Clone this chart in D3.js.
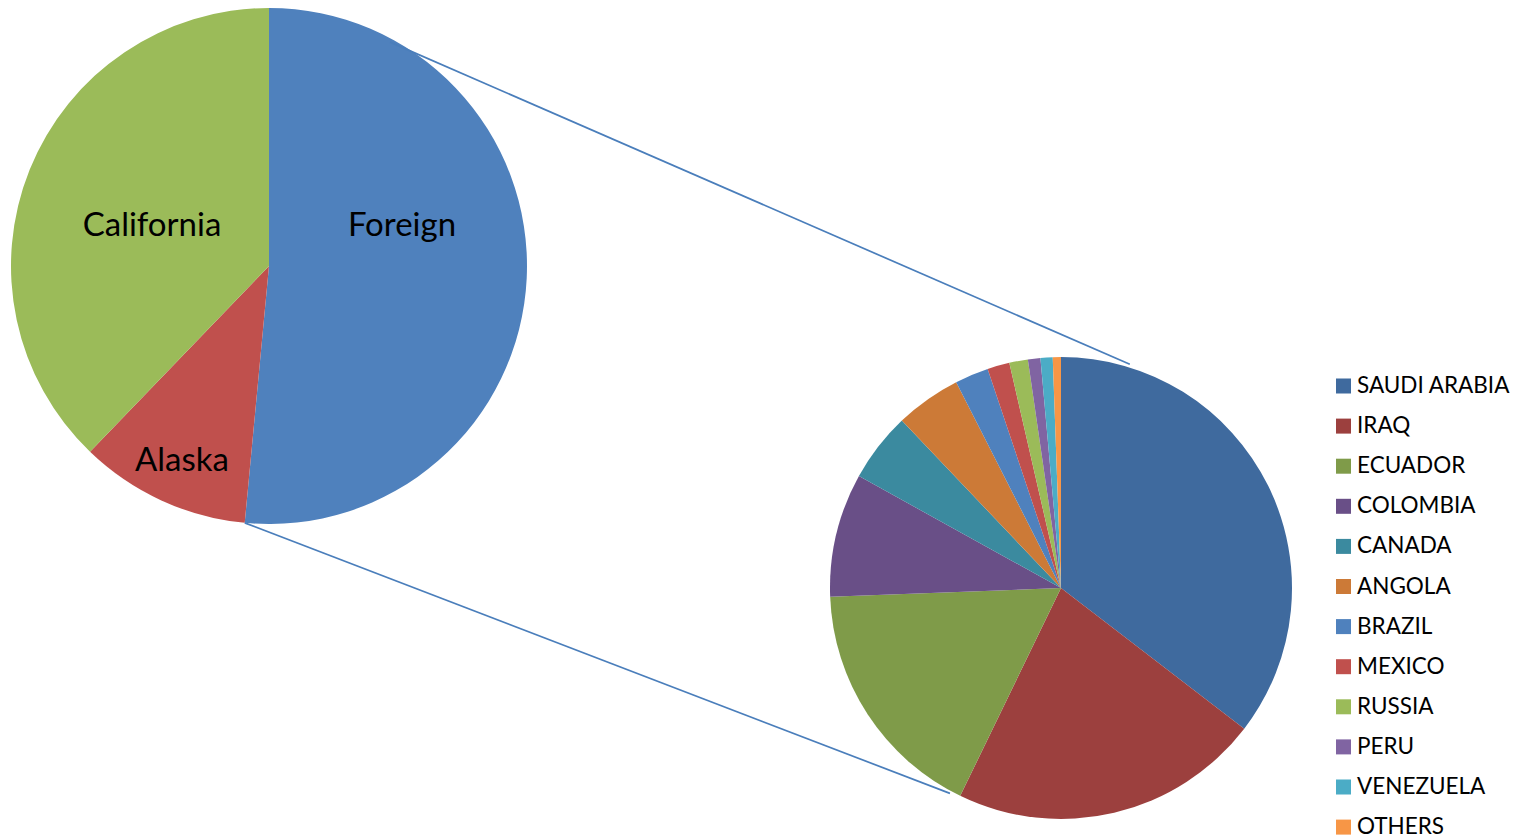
<!DOCTYPE html>
<html>
<head>
<meta charset="utf-8">
<script src="https://cdn.jsdelivr.net/npm/d3@7"></script>
<style>
  html, body { margin: 0; padding: 0; background: #fff; }
  svg { display: block; }
  text { font-family: Lato, "Open Sans", sans-serif; fill: #000; }
</style>
</head>
<body>
<svg id="chart" width="1527" height="839"></svg>
<script>
// Sources of crude oil (share, %)
const sourceNames = ["Foreign", "Alaska", "California"];
const sourceValues = [51.5, 10.7, 37.8];
const sourceColors = ["#4F81BD", "#C0504D", "#9BBB59"];

// Breakdown of foreign supply by country (share, %)
const countryNames = ["SAUDI ARABIA", "IRAQ", "ECUADOR", "COLOMBIA", "CANADA", "ANGOLA",
                      "BRAZIL", "MEXICO", "RUSSIA", "PERU", "VENEZUELA", "OTHERS"];
const countryValues = [35.4, 21.75, 17.2, 8.65, 4.85, 4.6, 2.35, 1.55, 1.3, 0.87, 0.85, 0.57];
const countryColors = ["#3F6A9E", "#9C403E", "#7F9B49", "#694F87", "#3B8A9F", "#CC7A37",
                       "#4F81BD", "#C0504D", "#9BBB59", "#8064A2", "#4BACC6", "#F79646"];

const svg = d3.select("#chart");

const main = { cx: 269, cy: 266, r: 258 };
const detail = { cx: 1061, cy: 588, r: 231 };

const pie = d3.pie().sort(null).value(d => d.value);

// Main pie
const mainArcs = pie(sourceNames.map((n, i) => ({ name: n, value: sourceValues[i], color: sourceColors[i] })));
const mainArc = d3.arc().innerRadius(0).outerRadius(main.r);
const gMain = svg.append("g").attr("transform", `translate(${main.cx},${main.cy})`);
gMain.selectAll("path").data(mainArcs).join("path")
  .attr("d", mainArc)
  .attr("fill", d => d.data.color);

// Detail pie
const detailArcs = pie(countryNames.map((n, i) => ({ name: n, value: countryValues[i], color: countryColors[i] })));
const detailArc = d3.arc().innerRadius(0).outerRadius(detail.r);
const gDetail = svg.append("g").attr("transform", `translate(${detail.cx},${detail.cy})`);
gDetail.selectAll("path").data(detailArcs).join("path")
  .attr("d", detailArc)
  .attr("fill", d => d.data.color);

// Connector lines from the Foreign slice to the detail pie
const polar = (c, ang, rad) => [c.cx + rad * Math.sin(ang), c.cy - rad * Math.cos(ang)];
const deg = Math.PI / 180;
const foreign = mainArcs[0];
const connectors = [
  [polar(main, 28.4 * deg, main.r - 3.5), polar(detail, 17.1 * deg, detail.r + 3)],
  [polar(main, foreign.endAngle, main.r), polar(detail, 208.4 * deg, detail.r + 2.5)]
];
svg.selectAll("line.connector").data(connectors).join("line")
  .attr("class", "connector")
  .attr("x1", d => d[0][0]).attr("y1", d => d[0][1])
  .attr("x2", d => d[1][0]).attr("y2", d => d[1][1])
  .attr("stroke", "#4A7EBB")
  .attr("stroke-width", 1.7);

// Slice labels on the main pie
const labelOffsets = { "Foreign": [133, -43], "California": [-117, -43], "Alaska": [-87, 192] };
gMain.selectAll("text").data(mainArcs).join("text")
  .attr("x", d => labelOffsets[d.data.name][0])
  .attr("y", d => labelOffsets[d.data.name][1])
  .attr("text-anchor", "middle")
  .attr("dominant-baseline", "central")
  .style("font-size", "33px")
  .text(d => d.data.name);

// Legend
const legend = svg.append("g").attr("transform", "translate(1336,386)");
const rowStep = 40.1;
const rows = legend.selectAll("g").data(detailArcs).join("g")
  .attr("transform", (d, i) => `translate(0,${i * rowStep})`);
rows.append("rect")
  .attr("x", 0).attr("y", -7.5).attr("width", 15).attr("height", 15)
  .attr("fill", d => d.data.color);
rows.append("text")
  .attr("x", 21).attr("y", -1.5)
  .attr("dominant-baseline", "central")
  .style("font-size", "22.5px")
  .text(d => d.data.name);
</script>
</body>
</html>
